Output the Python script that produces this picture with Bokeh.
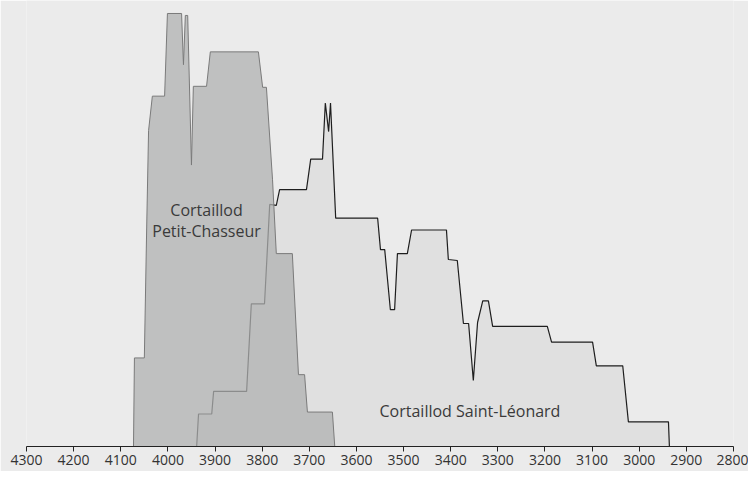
from bokeh.plotting import figure
from bokeh.models import Range1d, FixedTicker
from bokeh.core.properties import value
from bokeh.embed import file_html
from bokeh.resources import INLINE

# Years BC (x) and relative frequency (arbitrary units, y)
pc_years = [4073, 4071, 4050, 4045, 4041, 4033, 4007, 4001, 3971, 3967, 3963, 3958,
            3950, 3946, 3918, 3910, 3808, 3799, 3791, 3778, 3770, 3736, 3723, 3710,
            3704, 3651, 3646]
pc_freq = [0, 90, 90, 223, 321, 356, 356, 440, 440, 388, 438, 438,
           286, 366, 366, 401, 401, 365, 365, 271, 196, 196, 73, 73,
           35, 35, 0]

sl_years = [3939, 3935, 3907, 3903, 3833, 3823, 3795, 3784, 3770, 3763, 3706, 3697,
            3672, 3666, 3659, 3655, 3644, 3555, 3549, 3540, 3528, 3519, 3513, 3492,
            3483, 3409, 3405, 3386, 3373, 3362, 3352, 3343, 3332, 3320, 3311, 3195,
            3186, 3099, 3091, 3035, 3023, 2938, 2936]
sl_freq = [0, 33, 33, 56, 56, 145, 145, 246, 245, 261, 261, 292,
           292, 349, 320, 349, 232, 232, 200, 200, 139, 139, 196, 196,
           220, 220, 190, 189, 125, 125, 67, 126, 148, 148, 122, 122,
           106, 106, 82, 82, 25, 25, 0]

tick_years = [4300, 4200, 4100, 4000, 3900, 3800, 3700, 3600, 3500, 3400, 3300,
              3200, 3100, 3000, 2900, 2800]

label_pc_1 = "Cortaillod"
label_pc_2 = "Petit-Chasseur"
label_sl = "Cortaillod Saint-Léonard"

BG = "#ebebeb"
FONT = "Open Sans"

p = figure(width=748, height=471, output_backend="svg", toolbar_location=None,
           x_range=Range1d(4300, 2800), y_range=Range1d(0, 453.2),
           y_axis_location=None, min_border_left=26, min_border_right=15,
           min_border_top=0, min_border_bottom=25)
p.background_fill_color = BG
p.border_fill_color = BG
p.outline_line_color = None
p.xgrid.visible = False
p.ygrid.visible = False

p.patch(sl_years, sl_freq, fill_color="#e0e0e0", line_color="#1e1e1e", line_width=1.2)
p.patch(pc_years, pc_freq, fill_color="#b0b2b1", fill_alpha=0.75,
        line_color="#7a7a7a", line_width=1)

p.text(x=[3918], y=[240], text=[label_pc_1], text_font=value(FONT), text_font_size="16px",
       text_color="#3a3a3a", text_align="center", text_baseline="middle")
p.text(x=[3918], y=[219], text=[label_pc_2], text_font=value(FONT), text_font_size="16px",
       text_color="#3a3a3a", text_align="center", text_baseline="middle")
p.text(x=[3551], y=[36], text=[label_sl], text_font=value(FONT), text_font_size="16px",
       text_color="#3a3a3a", text_align="left", text_baseline="middle")

ax = p.xaxis[0]
ax.ticker = FixedTicker(ticks=tick_years)
ax.axis_line_color = "#222222"
ax.axis_line_width = 1.2
ax.major_tick_line_color = "#222222"
ax.major_tick_in = 0
ax.major_tick_out = 5
ax.minor_tick_line_color = None
ax.major_label_text_font = FONT
ax.major_label_text_font_size = "14px"
ax.major_label_text_color = "#333333"
ax.major_label_standoff = 3

open("out.html", "w").write(file_html(p, INLINE))
